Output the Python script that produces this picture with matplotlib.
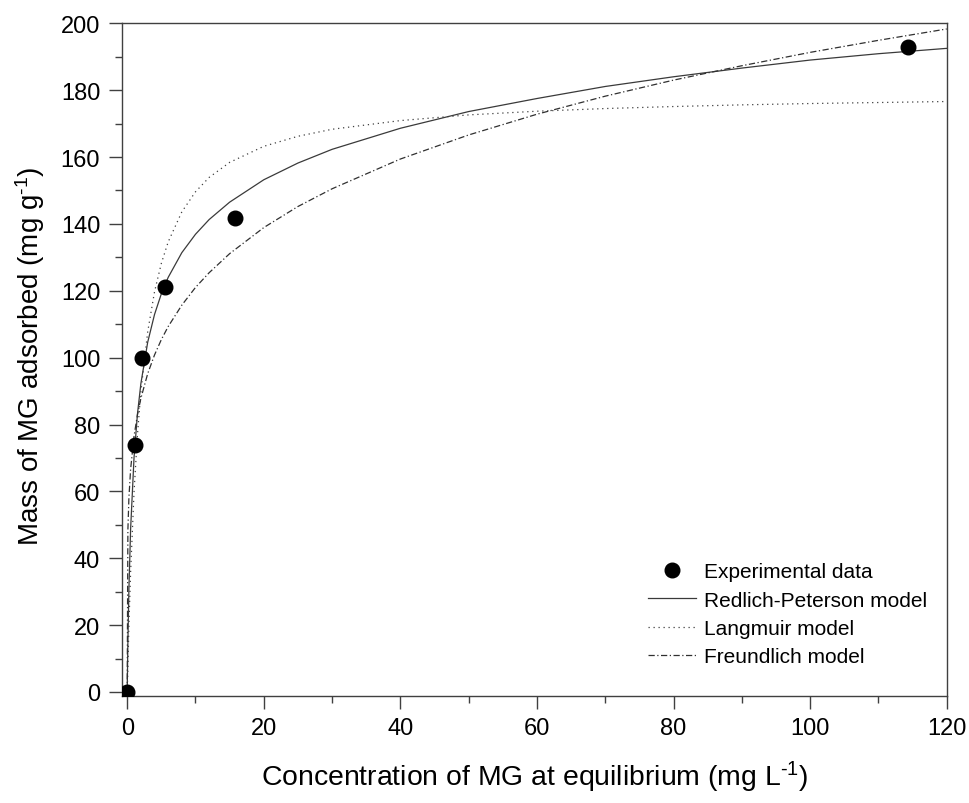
import matplotlib
matplotlib.use("Agg")
import matplotlib.pyplot as plt
from matplotlib.ticker import MultipleLocator

plt.rcParams["font.family"] = ["Liberation Sans", "DejaVu Sans"]
plt.rcParams["mathtext.fontset"] = "custom"
plt.rcParams["mathtext.rm"] = "Liberation Sans"
plt.rcParams["mathtext.it"] = "Liberation Sans"

# Experimental isotherm points
ce_exp = [0.0, 1.13, 2.1, 5.6, 15.8, 114.4]
qe_exp = [0.0, 74.0, 99.8, 121.0, 141.9, 193.0]

# Fitted model curves, read along a common Ce grid
ce_fit = [0, 0.1, 0.25, 0.5, 1, 1.5, 2, 3, 4, 5, 6, 8, 10, 12, 15, 20, 25, 30,
          40, 50, 60, 70, 80, 90, 100, 110, 120]
qe_rp = [0, 14.9, 30.8, 48.7, 70.1, 83.1, 92.2, 104.6, 112.9, 119.1, 124.0,
         131.4, 136.9, 141.3, 146.5, 153.2, 158.2, 162.3, 168.6, 173.6, 177.5,
         181.1, 184.0, 186.6, 189.0, 190.9, 192.5]
qe_lang = [0, 7.0, 19.9, 35.9, 59.8, 76.9, 89.8, 107.7, 119.7, 128.2, 134.6,
           143.6, 149.6, 153.9, 158.4, 163.2, 166.2, 168.3, 170.9, 172.6, 173.7,
           174.5, 175.1, 175.6, 176.0, 176.3, 176.6]
qe_freu = [0, 48.4, 58.1, 66.6, 76.5, 82.9, 87.8, 95.2, 100.8, 105.4, 109.3,
           115.7, 121.0, 125.4, 131.1, 138.9, 145.2, 150.5, 159.4, 166.6, 172.8,
           178.2, 183.0, 187.3, 191.3, 194.9, 198.3]

fig = plt.figure(figsize=(9.70, 8.04), dpi=100)
ax = fig.add_axes([0.1255, 0.1335, 0.8505, 0.8363])

ax.plot(ce_exp, qe_exp, "o", color="black", markersize=10.5,
        label="Experimental data", zorder=5)
ax.plot(ce_fit, qe_rp, "-", color="#3a3a3a", linewidth=0.9,
        label="Redlich-Peterson model")
ax.plot(ce_fit, qe_lang, color="#404040", linewidth=0.9, linestyle=(0, (1, 3)),
        label="Langmuir model")
ax.plot(ce_fit, qe_freu, color="#303030", linewidth=0.9,
        linestyle=(0, (5, 2, 1, 2)), label="Freundlich model")

ax.set_xlim(-0.8, 120)
ax.set_ylim(-1.1, 200)
ax.xaxis.set_major_locator(MultipleLocator(20))
ax.xaxis.set_minor_locator(MultipleLocator(10))
ax.yaxis.set_major_locator(MultipleLocator(20))
ax.yaxis.set_minor_locator(MultipleLocator(10))

ax.tick_params(which="both", direction="out", top=False, right=False,
               color="#404040", width=1)
ax.tick_params(which="major", length=9.5, labelsize=17, pad=6)
ax.tick_params(which="minor", length=5)
for s in ax.spines.values():
    s.set_color("#404040")
    s.set_linewidth(1)

ax.set_xlabel(r"Concentration of MG at equilibrium (mg L$^{\text{-1}}$)",
              fontsize=20.4, labelpad=14)
ax.set_ylabel(r"Mass of MG adsorbed (mg g$^{\text{-1}}$)", fontsize=20,
              labelpad=10)
ax.yaxis.set_label_coords(-0.090, 0.507)

ax.legend(loc="upper left", bbox_to_anchor=(648 / 970, 1 - 563.5 / 804),
          bbox_transform=fig.transFigure, frameon=False, fontsize=15,
          handlelength=2.3, handletextpad=0.4, labelspacing=0.44,
          borderpad=0, borderaxespad=0)

fig.savefig("out.png", dpi=100)
